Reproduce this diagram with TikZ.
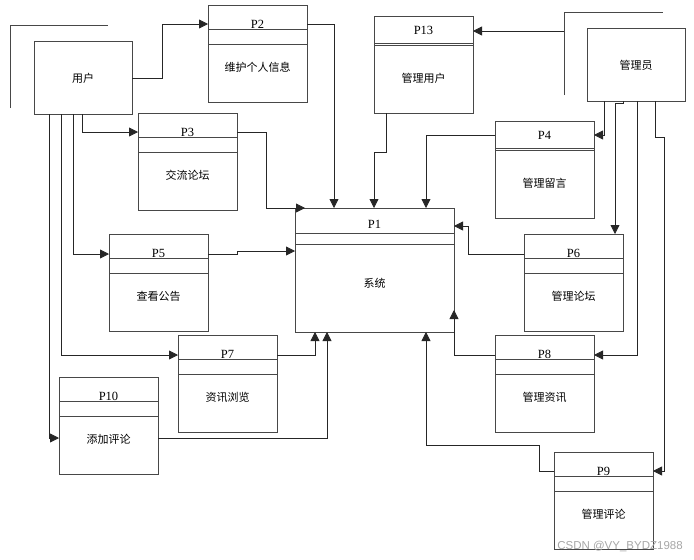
\documentclass[tikz,border=0pt]{standalone}
\usepackage{fontspec}
\setmainfont{Liberation Serif}
\newfontfamily\cjk{Noto Sans CJK SC}
\newfontfamily\wmfont{Liberation Sans}
\usetikzlibrary{arrows.meta,calc}
\tikzset{
 ln/.style={draw=black!72, line width=0.9pt},
 pbox/.style={ln, anchor=north west, minimum width=99pt, minimum height=97pt, inner sep=0pt, outer sep=0pt},
 ent/.style={ln, anchor=north west, minimum width=98pt, minimum height=73pt, inner sep=0pt, outer sep=0pt},
 pl/.style={font=\fontsize{12.5}{12.5}\selectfont, inner sep=0pt},
 ct/.style={font=\cjk\fontsize{11}{11}\selectfont, inner sep=0pt},
 arr/.style={draw=black!85, line width=0.8pt, -{Triangle[length=9pt,width=9pt]}},
}
\newcommand\mybox[6]{% name, x, y, label, text, double?
 \node[pbox] (#1) at (#2,#3) {};
 \ifx#6d
  \draw[ln] ($(#1.north west)+(0,27)$) -- ($(#1.north east)+(0,27)$);
  \draw[ln] ($(#1.north west)+(0,29)$) -- ($(#1.north east)+(0,29)$);
  \node[pl] (#1l) at ($(#1.north)+(0,14)$) {#4};
 \else
  \draw[ln] ($(#1.north west)+(0,24)$) -- ($(#1.north east)+(0,24)$);
  \draw[ln] ($(#1.north west)+(0,39)$) -- ($(#1.north east)+(0,39)$);
  \node[pl] (#1l) at ($(#1.north)+(0,19)$) {#4};
 \fi
 \node[ct] (#1t) at ($(#1.north)+(0,62)$) {#5};
}
\begin{document}
\begin{tikzpicture}[x=1pt,y=-1pt]
\useasboundingbox (0,0) rectangle (694,560);
% entities
\node[ent] (usr) at (34,41) {};
\node[ct] (usrt) at (83,78) {用户};
\draw[ln] (10,108) -- (10,25) -- (108,25);
\node[ent] (adm) at (587,28) {};
\node[ct] (admt) at (636,65) {管理员};
\draw[ln] (564,95) -- (564,12) -- (663,12);
\coordinate (admb) at (564,31);
% processes
\mybox{P2}{208}{5}{P2}{维护个人信息}{n}
\mybox{P13}{374}{16}{P13}{管理用户}{d}
\mybox{P3}{138}{113}{P3}{交流论坛}{n}
\mybox{P4}{495}{121}{P4}{管理留言}{d}
\mybox{P5}{109}{234}{P5}{查看公告}{n}
\mybox{P6}{524}{234}{P6}{管理论坛}{n}
\mybox{P7}{178}{335}{P7}{资讯浏览}{n}
\mybox{P8}{495}{335}{P8}{管理资讯}{n}
\mybox{P10}{59}{377}{P10}{添加评论}{n}
\mybox{P9}{554}{452}{P9}{管理评论}{n}
% P1
\node[ln, anchor=north west, minimum width=159pt, minimum height=124pt, inner sep=0pt, outer sep=0pt] (P1) at (295,208) {};
\draw[ln] ($(P1.north west)+(0,25)$) -- ($(P1.north east)+(0,25)$);
\draw[ln] ($(P1.north west)+(0,36)$) -- ($(P1.north east)+(0,36)$);
\node[pl] (P1l) at ($(P1.north)+(0,16)$) {P1};
\node[ct] (P1t) at ($(P1.north)+(0,75)$) {系统};
% connectors from user
\draw[arr] (usr.east |- 0,78) -| (162,24) -- (P2.west |- 0,24);
\draw[arr] (usr.south -| 82,0) |- (P3.west |- 0,132);
\draw[arr] (usr.south -| 73,0) |- (P5.west |- 0,254);
\draw[arr] (usr.south -| 61,0) |- (P7.west |- 0,355);
\draw[arr] (usr.south -| 49,0) |- (P10.west |- 0,438);
% into P1
\draw[arr] (P2.east |- 0,24) -| (P1.north -| 334,0);
\draw[arr] (P3.east |- 0,132) -| (266,208) -- (P1.north -| 305,0);
\draw[arr] (P5.east |- 0,254) -- (237,254) -- (237,251) -- (P1.west |- 0,251);
\draw[arr] (P7.east |- 0,355) -| (P1.south -| 315,0);
\draw[arr] (P10.east |- 0,438) -| (P1.south -| 327,0);
\draw[arr] (P13.south -| 386,0) -- (386,152) -- (374,152) -- (P1.north -| 374,0);
\draw[arr] (P4.west |- 0,135) -| (P1.north -| 426,0);
\draw[arr] (P6.west |- 0,254) -- (468,254) -- (468,226) -- (P1.east |- 0,226);
\draw[arr] (P8.west |- 0,355) -| (P1.east |- 0,310);
\draw[arr] (P9.west |- 0,471) -- (539,471) -- (539,445) -| (P1.south -| 426,0);
% from admin
\draw[arr] (admb) -- (P13.east |- 0,31);
\draw[arr] (adm.south -| 604,0) |- (P4.east |- 0,135);
\draw[arr] (adm.south -| 623,0) -- (623,103) -- (615,103) -- (P6.north -| 615,0);
\draw[arr] (adm.south -| 637,0) |- (P8.east |- 0,355);
\draw[arr] (adm.south -| 655,0) -- (655,137) -- (664,137) |- (P9.east |- 0,471);
% watermark
\node[font=\wmfont\fontsize{11.5}{11.5}\selectfont, text=black!35, inner sep=0pt] (wm) at (620,546) {CSDN @VY\_BYDZ1988};
\end{tikzpicture}
\end{document}
